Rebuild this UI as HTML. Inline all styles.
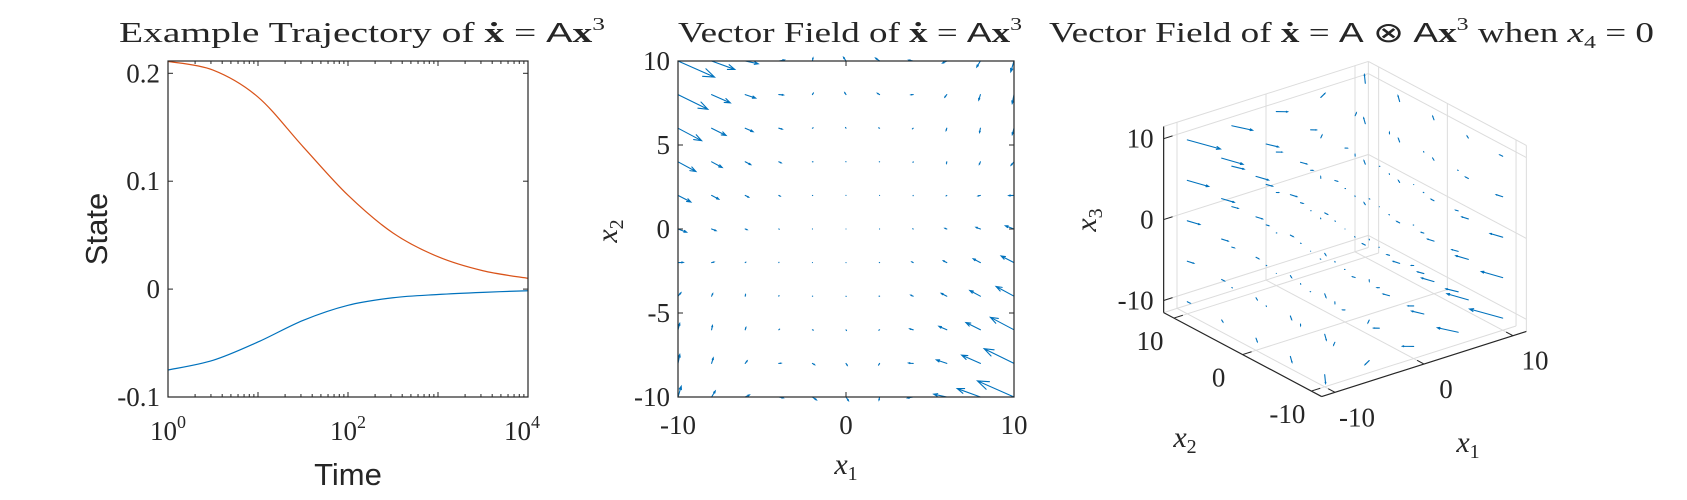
<!DOCTYPE html>
<html><head><meta charset="utf-8"><style>
html,body{margin:0;padding:0;background:#fff;}
svg{display:block;}
text{font-family:"Liberation Serif",serif;fill:#262626;}
.sans{font-family:"Liberation Sans",sans-serif;}
</style></head><body>
<svg id="fig" width="1687" height="500" viewBox="0 0 1687 500" xmlns="http://www.w3.org/2000/svg">
<g id="p1"></g>
<g id="p2"></g>
<g id="p3"></g>
</svg>
<script>
// ---------- Panel 1 data ----------
const logTime = [0, 0.5, 1, 1.5, 2, 2.5, 3, 3.5, 4];
const stateRed = [0.211, 0.203, 0.178, 0.132, 0.087, 0.052, 0.030, 0.017, 0.010];
const stateBlue = [-0.075, -0.066, -0.049, -0.029, -0.015, -0.008, -0.005, -0.003, -0.0015];
const yTicks1 = [-0.1, 0, 0.1, 0.2];
const yTickLabels1 = ["-0.1", "0", "0.1", "0.2"];
const xDecades = [0, 1, 2, 3, 4];
const xLabelDecades = [0, 2, 4];
// ---------- Panel 2 data (field = A * [x1^3, x1^2 x2, x1 x2^2, x2^3]) ----------
const gridVals = [-10, -8, -6, -4, -2, 0, 2, 4, 6, 8, 10];
const coefU = [-8, 17.8, -10.5, -2.3];
const coefV = [3, -15.9, -0.5, 3.44];
const xTicks2 = [-10, 0, 10];
const xTickLabels2 = ["-10", "0", "10"];
const yTicks2 = [-10, -5, 0, 5, 10];
const yTickLabels2 = ["-10", "-5", "0", "5", "10"];
// ---------- Panel 3 data ----------
const grid3 = [-10, -5, 0, 5, 10];
const dirMain = [0.3, -1, 0];
const dirSecond = [0.3, 0, -1];
const ampMain = [1.6, 1.9];
const ampSecond = [0.6, 0.7];
const ticks3 = [-10, 0, 10];
const tickLabels3 = ["-10", "0", "10"];

const NS = "http://www.w3.org/2000/svg";
function mk(parent, tag, attrs, txt) {
  const e = document.createElementNS(NS, tag);
  for (const k in attrs) e.setAttribute(k, attrs[k]);
  if (txt !== undefined) e.textContent = txt;
  parent.appendChild(e);
  return e;
}
const BLUE = "#0072BD", RED = "#D95319", AX = "#262626";

// =============== Panel 1 ===============
const p1 = document.getElementById("p1");
const L1 = 168, R1 = 528, T1 = 61, B1 = 397, YMIN = -0.1, YMAX = 0.2114;
const xs1 = lt => L1 + lt / 4 * (R1 - L1);
const ys1 = v => B1 - (v - YMIN) / (YMAX - YMIN) * (B1 - T1);
function smoothPath(pts) {
  let d = "M" + pts[0][0].toFixed(2) + "," + pts[0][1].toFixed(2);
  for (let i = 0; i < pts.length - 1; i++) {
    const p0 = pts[Math.max(0, i - 1)], p1_ = pts[i], p2 = pts[i + 1], p3 = pts[Math.min(pts.length - 1, i + 2)];
    const c1 = [p1_[0] + (p2[0] - p0[0]) / 6, p1_[1] + (p2[1] - p0[1]) / 6];
    const c2 = [p2[0] - (p3[0] - p1_[0]) / 6, p2[1] - (p3[1] - p1_[1]) / 6];
    d += " C" + c1.map(v => v.toFixed(2)).join(",") + " " + c2.map(v => v.toFixed(2)).join(",") + " " + p2[0].toFixed(2) + "," + p2[1].toFixed(2);
  }
  return d;
}
const redLine = mk(p1, "path", {d: smoothPath(logTime.map((t, i) => [xs1(t), ys1(stateRed[i])])), fill: "none", stroke: RED, "stroke-width": 1.2});


const blueLine = mk(p1, "path", {d: smoothPath(logTime.map((t, i) => [xs1(t), ys1(stateBlue[i])])), fill: "none", stroke: BLUE, "stroke-width": 1.2});


const box1 = mk(p1, "rect", {x: L1, y: T1, width: R1 - L1, height: B1 - T1, fill: "none", stroke: AX, "stroke-width": 1.2});


yTicks1.forEach((v, i) => {
  const y = ys1(v);
  mk(p1, "line", {x1: L1, x2: L1 + 5, y1: y, y2: y, stroke: AX});
  mk(p1, "line", {x1: R1, x2: R1 - 5, y1: y, y2: y, stroke: AX});
  const t = mk(p1, "text", {x: L1 - 8, y: y + 9, "text-anchor": "end", "font-size": 27}, yTickLabels1[i]);
  
  
});
xDecades.forEach(dc => {
  const x = xs1(dc);
  mk(p1, "line", {x1: x, x2: x, y1: B1, y2: B1 - 5, stroke: AX});
  mk(p1, "line", {x1: x, x2: x, y1: T1, y2: T1 + 5, stroke: AX});
  if (dc < 4) for (let m = 2; m <= 9; m++) {
    const xm = xs1(dc + Math.log10(m));
    mk(p1, "line", {x1: xm, x2: xm, y1: B1, y2: B1 - 3, stroke: AX});
    mk(p1, "line", {x1: xm, x2: xm, y1: T1, y2: T1 + 3, stroke: AX});
  }
});
xLabelDecades.forEach(dc => {
  const x = xs1(dc);
  const anchor = dc === 4 ? "end" : "middle";
  const t = mk(p1, "text", {x: dc === 4 ? x + 12 : x, y: 440, "text-anchor": anchor, "font-size": 27});
  t.innerHTML = '10<tspan font-size="18" dy="-12">' + dc + '</tspan>';
  
  
});
const timeLbl = mk(p1, "text", {x: 348, y: 485, "text-anchor": "middle", "font-size": 31, class: "sans"}, "Time");


const stateLbl = mk(p1, "text", {x: 0, y: 0, "text-anchor": "middle", "font-size": 31, class: "sans", transform: "translate(107,229) rotate(-90)"}, "State");


const title1 = mk(p1, "text", {x: 119, y: 42, "font-size": 28, textLength: 486, lengthAdjust: "spacingAndGlyphs"});
title1.innerHTML = 'Example Trajectory of <tspan font-weight="bold">ẋ</tspan> = <tspan class="sans">A</tspan><tspan font-weight="bold">x</tspan><tspan font-size="18" dy="-12">3</tspan>';



// =============== Panel 2 ===============
const p2 = document.getElementById("p2");
const L2 = 678, R2 = 1014, T2 = 61, B2 = 397;
const xs2 = v => L2 + (v + 10) / 20 * (R2 - L2);
const ys2 = v => B2 - (v + 10) / 20 * (B2 - T2);
const SC2 = 1.074 / 1000;
function arrow(parent, x0, y0, dx, dy, head, name) {
  const len = Math.hypot(dx, dy);
  const x1 = x0 + dx, y1 = y0 + dy;
  let d = "M" + x0.toFixed(2) + "," + y0.toFixed(2) + " L" + x1.toFixed(2) + "," + y1.toFixed(2);
  if (len > 1.5) {
    const a = Math.atan2(dy, dx), h = len * head, s = 0.35;
    d += " M" + (x1 - h * Math.cos(a - s)).toFixed(2) + "," + (y1 - h * Math.sin(a - s)).toFixed(2) + " L" + x1.toFixed(2) + "," + y1.toFixed(2) + " L" + (x1 - h * Math.cos(a + s)).toFixed(2) + "," + (y1 - h * Math.sin(a + s)).toFixed(2);
  }
  const p = mk(parent, "path", {d: d, fill: "none", stroke: BLUE, "stroke-width": 1.1, "stroke-linecap": "round"});
  
  
}
gridVals.forEach(a => gridVals.forEach(b => {
  const m = [a * a * a, a * a * b, a * b * b, b * b * b];
  const u = coefU.reduce((s, c, k) => s + c * m[k], 0);
  const v = coefV.reduce((s, c, k) => s + c * m[k], 0);
  arrow(p2, xs2(a), ys2(b), u * SC2, -v * SC2, 0.3, 'quiver-arrow');
}));
const box2 = mk(p2, "rect", {x: L2, y: T2, width: R2 - L2, height: B2 - T2, fill: "none", stroke: AX, "stroke-width": 1.2});


xTicks2.forEach((v, i) => {
  const x = xs2(v);
  mk(p2, "line", {x1: x, x2: x, y1: B2, y2: B2 - 5, stroke: AX});
  mk(p2, "line", {x1: x, x2: x, y1: T2, y2: T2 + 5, stroke: AX});
  const tx = mk(p2, "text", {x: x, y: 434, "text-anchor": "middle", "font-size": 27}, xTickLabels2[i]);
  
  
});
yTicks2.forEach((v, i) => {
  const y = ys2(v);
  mk(p2, "line", {x1: L2, x2: L2 + 5, y1: y, y2: y, stroke: AX});
  mk(p2, "line", {x1: R2, x2: R2 - 5, y1: y, y2: y, stroke: AX});
  const ty = mk(p2, "text", {x: L2 - 8, y: y + 9, "text-anchor": "end", "font-size": 27}, yTickLabels2[i]);
  
  
});
const x1Lbl = mk(p2, "text", {x: 846, y: 474, "text-anchor": "middle", "font-size": 30});
x1Lbl.innerHTML = '<tspan font-style="italic">x</tspan><tspan font-size="20" dy="6">1</tspan>';


const x2Lbl = mk(p2, "text", {x: 0, y: 0, "text-anchor": "middle", "font-size": 30, transform: "translate(617,231) rotate(-90)"});
x2Lbl.innerHTML = '<tspan font-style="italic">x</tspan><tspan font-size="20" dy="6">2</tspan>';


const title2 = mk(p2, "text", {x: 678, y: 42, "font-size": 28, textLength: 344, lengthAdjust: "spacingAndGlyphs"});
title2.innerHTML = 'Vector Field of <tspan font-weight="bold">ẋ</tspan> = <tspan class="sans">A</tspan><tspan font-weight="bold">x</tspan><tspan font-size="18" dy="-12">3</tspan>';



// =============== Panel 3 ===============
const p3 = document.getElementById("p3");
const P0 = [1345, 229], EX1 = [8.9, -2.83], EX2 = [-6.87, -3.65], EZ = [0, -8.09], LIM = 11.5;
const proj = (a, b, c) => [P0[0] + a * EX1[0] + b * EX2[0] + c * EZ[0], P0[1] + a * EX1[1] + b * EX2[1] + c * EZ[1]];
function ln3(par, A, B, col, w, name) {
  const p = proj(...A), q = proj(...B);
  const e = mk(par, "line", {x1: p[0], y1: p[1], x2: q[0], y2: q[1], stroke: col, "stroke-width": w});
  
  
}
const GC = "#dcdcdc";
ticks3.forEach(t => {
  ln3(p3, [t, -LIM, -LIM], [t, LIM, -LIM], GC, 1, 'grid-line');
  ln3(p3, [-LIM, t, -LIM], [LIM, t, -LIM], GC, 1, 'grid-line');
  ln3(p3, [t, LIM, -LIM], [t, LIM, LIM], GC, 1, 'grid-line');
  ln3(p3, [-LIM, LIM, t], [LIM, LIM, t], GC, 1, 'grid-line');
  ln3(p3, [LIM, t, -LIM], [LIM, t, LIM], GC, 1, 'grid-line');
  ln3(p3, [LIM, -LIM, t], [LIM, LIM, t], GC, 1, 'grid-line');
});
ln3(p3, [-LIM, LIM, LIM], [LIM, LIM, LIM], GC, 1, 'box-edge');
ln3(p3, [LIM, -LIM, LIM], [LIM, LIM, LIM], GC, 1, 'box-edge');
ln3(p3, [LIM, LIM, -LIM], [LIM, LIM, LIM], GC, 1, 'box-edge');
ln3(p3, [LIM, -LIM, -LIM], [LIM, -LIM, LIM], GC, 1, 'box-edge');
ln3(p3, [-LIM, LIM, LIM], [-LIM, LIM, -LIM], GC, 1, 'box-edge');
ln3(p3, [LIM, LIM, -LIM], [-LIM, LIM, -LIM], GC, 1, 'box-edge');
grid3.forEach(a => grid3.forEach(b => grid3.forEach(c => {
  const w = (-a + b + c) / 30, q = (a + b + c) / 30;
  const fm = ampMain[0] * w * w * w + ampMain[1] * w * Math.abs(w);
  const fs = -(ampSecond[0] * q * q * q + ampSecond[1] * q * Math.abs(q));
  const f = [0, 1, 2].map(k => fm * dirMain[k] + fs * dirSecond[k]);
  const s = proj(a, b, c), e = proj(a + f[0], b + f[1], c + f[2]);
  arrow(p3, s[0], s[1], e[0] - s[0], e[1] - s[1], 0.12, 'quiver3-arrow');
})));
ln3(p3, [-LIM, -LIM, -LIM], [LIM, -LIM, -LIM], AX, 1.2, 'x1-axis-line');
ln3(p3, [-LIM, -LIM, -LIM], [-LIM, LIM, -LIM], AX, 1.2, 'x2-axis-line');
ln3(p3, [-LIM, LIM, -LIM], [-LIM, LIM, LIM], AX, 1.2, 'x3-axis-line');
ticks3.forEach((t, i) => {
  ln3(p3, [t, -LIM, -LIM], [t, -LIM + 1, -LIM], AX, 1, 'x1-tick');
  ln3(p3, [-LIM, t, -LIM], [-LIM + 1, t, -LIM], AX, 1, 'x2-tick');
  ln3(p3, [-LIM, LIM, t], [-LIM + 1, LIM, t], AX, 1, 'x3-tick');
  const px1 = proj(t, -LIM, -LIM);
  const a1 = mk(p3, "text", {x: px1[0] + 22, y: px1[1] + 34, "text-anchor": "middle", "font-size": 27}, tickLabels3[i]);
  
  
  const px2 = proj(-LIM, t, -LIM);
  const a2 = mk(p3, "text", {x: px2[0] - 24, y: px2[1] + 32, "text-anchor": "middle", "font-size": 27}, tickLabels3[i]);
  
  
  const px3 = proj(-LIM, LIM, t);
  const a3 = mk(p3, "text", {x: px3[0] - 10, y: px3[1] + 9, "text-anchor": "end", "font-size": 27}, tickLabels3[i]);
  
  
});
const l31 = mk(p3, "text", {x: 1468, y: 452, "text-anchor": "middle", "font-size": 30});
l31.innerHTML = '<tspan font-style="italic">x</tspan><tspan font-size="20" dy="6">1</tspan>';


const l32 = mk(p3, "text", {x: 1185, y: 447, "text-anchor": "middle", "font-size": 30});
l32.innerHTML = '<tspan font-style="italic">x</tspan><tspan font-size="20" dy="6">2</tspan>';


const l33 = mk(p3, "text", {x: 0, y: 0, "text-anchor": "middle", "font-size": 30, transform: "translate(1096,220) rotate(-90)"});
l33.innerHTML = '<tspan font-style="italic">x</tspan><tspan font-size="20" dy="6">3</tspan>';


const title3 = mk(p3, "text", {x: 1049, y: 42, "font-size": 28, textLength: 605, lengthAdjust: "spacingAndGlyphs"});
title3.innerHTML = 'Vector Field of <tspan font-weight="bold">ẋ</tspan> = <tspan class="sans">A</tspan> ⊗ <tspan class="sans">A</tspan><tspan font-weight="bold">x</tspan><tspan font-size="18" dy="-12">3</tspan><tspan dy="12"> when </tspan><tspan font-style="italic">x</tspan><tspan font-size="18" dy="6">4</tspan><tspan dy="-6"> = 0</tspan>';


</script>
</body></html>
